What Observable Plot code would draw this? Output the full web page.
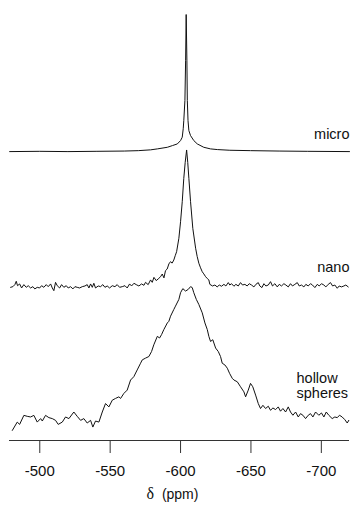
<!DOCTYPE html>
<html>
<head>
<meta charset="utf-8">
<script src="https://cdn.jsdelivr.net/npm/d3@7"></script>
<script src="https://cdn.jsdelivr.net/npm/@observablehq/plot@0.6"></script>
<style>
  html, body { margin: 0; padding: 0; background: #fff; }
  #chart { width: 351px; height: 507px; }
</style>
</head>
<body>
<div id="chart"></div>
<script>
// ---- data: [chemical shift (ppm), intensity (a.u., peak ~100)] ----
const microTrace = [[-478.6,0],[-500,0.2],[-520,0],[-540,0.2],[-560,0.4],[-570,0.7],[-578.7,1.3],[-583.5,2.0],[-590.6,3.2],[-594.3,4.5],[-597.7,5.7],[-600,8.2],[-601.2,10.7],[-601.9,17],[-602.3,23],[-603.1,38],[-603.6,68],[-604,102],[-604.5,68],[-604.8,38],[-605.3,23],[-605.9,15.6],[-607.1,11.9],[-609.4,8.2],[-611.9,5.7],[-616.5,3.2],[-621.3,2.0],[-626.1,1.5],[-635,1.0],[-649.7,0.7],[-670,0.4],[-690,0.2],[-720,0]];

const nanoTrace = [[-479.3,-1.0],[-480.9,-0.5],[-482.3,1.0],[-483.3,3.5],[-484.2,0.2],[-485.7,1.5],[-487.1,-1.5],[-488.7,1.0],[-490.4,-1.0],[-491.8,0.2],[-493.5,-1.5],[-495.1,-0.5],[-496.5,-2.2],[-498.2,-1.0],[-499.9,-1.5],[-501.3,0.2],[-502.9,-1.0],[-504.6,1.0],[-506.0,-0.5],[-507.7,1.5],[-508.9,-1.5],[-510.0,-3.5],[-511.2,2.7],[-512.4,0.2],[-514.1,-1.5],[-515.5,1.0],[-517.1,-1.0],[-518.8,0.2],[-520.2,-1.5],[-521.9,-0.5],[-523.5,-2.2],[-525.0,-0.5],[-526.6,-1.0],[-528.3,-1.5],[-530.2,-0.5],[-532.1,0],[-533.7,1.0],[-534.9,-1.5],[-536.1,1.5],[-537.3,-1.0],[-538.4,2.0],[-539.6,-1.5],[-541.5,0],[-543.2,-0.5],[-544.8,1.0],[-546.3,-1.0],[-547.9,0],[-549.6,-1.5],[-551.5,0.2],[-553.4,-0.5],[-555.0,1.0],[-556.7,-1.0],[-558.6,-0.5],[-560.5,0.2],[-562.1,-1.5],[-563.8,1.5],[-565.2,0],[-566.9,2.0],[-568.5,1.0],[-570.4,0],[-572.3,1.5],[-574.0,0.5],[-575.1,2.7],[-577.0,1.0],[-578.7,4.5],[-579.9,2.7],[-581.1,6.4],[-582.7,4.0],[-584.1,5.2],[-585.8,6.9],[-587.0,8.9],[-588.2,6.0],[-589.3,11.4],[-590.5,12.6],[-591.7,16.4],[-592.9,18.1],[-594.0,17.0],[-595.2,19.3],[-596.2,22.5],[-597.2,25.5],[-598.8,35.5],[-600.0,47.8],[-601.2,62.7],[-602.3,80.1],[-603.3,92],[-604.3,101.2],[-605.1,92],[-605.9,80.1],[-607.1,62.7],[-608.7,42.9],[-610.7,28.1],[-611.8,22],[-613.0,16.9],[-614.2,13.5],[-615.4,10.6],[-616.5,9.0],[-617.8,6.9],[-619.0,5.5],[-620.1,4.5],[-620.8,1.2],[-622.7,0],[-624.4,0.7],[-626.0,-0.7],[-627.5,0.7],[-629.1,-0.2],[-630.8,1.2],[-632.2,0],[-633.9,2.5],[-635.0,0.7],[-636.2,1.7],[-637.9,-0.2],[-639.3,1.2],[-641.0,0],[-642.6,2.5],[-644.0,0.7],[-645.7,1.2],[-647.3,0],[-648.8,1.7],[-650.4,0.7],[-652.1,-0.7],[-653.5,1.2],[-655.2,2.5],[-656.3,0],[-657.8,-1.2],[-659.2,1.7],[-660.6,0],[-662.3,0.7],[-663.9,3.2],[-665.3,0],[-667.0,1.7],[-668.7,-0.7],[-670.1,1.2],[-671.7,0],[-673.4,1.7],[-674.8,0.7],[-676.5,-0.7],[-678.1,1.7],[-679.5,0],[-681.2,1.2],[-682.9,2.5],[-684.3,0],[-685.9,0.7],[-687.6,-0.7],[-689.0,1.2],[-690.7,0],[-692.3,1.7],[-693.7,0.7],[-695.4,-1.2],[-697.1,1.2],[-698.5,0],[-700.1,1.7],[-701.8,0.7],[-703.2,-0.7],[-704.9,1.2],[-706.5,2.5],[-708.0,0],[-709.6,0.7],[-711.3,-1.7],[-712.7,0],[-714.3,-0.7],[-716.0,0],[-717.4,0.7],[-719.1,-0.7]];

const hollowTrace = [[-480.5,-7.5],[-484.0,-1.3],[-485.7,-3.0],[-488.7,3.7],[-491.1,3.0],[-493.5,2.5],[-495.8,3.7],[-498.2,-1.3],[-500.6,1.3],[-501.8,-0.5],[-504.1,3.7],[-506.5,2.0],[-508.9,1.3],[-511.2,0],[-513.1,-3.0],[-516.0,-1.3],[-518.3,2.5],[-520.7,1.3],[-524.2,6.2],[-526.6,3.0],[-529.0,0],[-531.3,1.3],[-533.7,-2.0],[-536.1,0],[-537.7,-5.0],[-539.6,-0.5],[-542.0,-1.3],[-544.4,6.2],[-546.7,12.5],[-549.1,10.0],[-551.5,15.0],[-553.8,16.3],[-556.2,17.5],[-557.4,16.3],[-559.7,20.0],[-562.1,22.5],[-564.5,30.0],[-566.8,32.5],[-569.2,37.5],[-571.6,42.5],[-572.8,45.0],[-575.1,46.3],[-577.5,47.5],[-579.4,51.2],[-581.0,56.2],[-583.5,62.5],[-585.1,61.3],[-586.5,63.8],[-588.1,67.5],[-590.6,72.5],[-591.7,73.7],[-592.9,77.5],[-595.2,82.5],[-596.4,85],[-598.8,90],[-600.0,95],[-601.6,98],[-603.6,96.2],[-605.5,97.5],[-607.1,99.5],[-608.3,98.8],[-609.4,95],[-611.2,90],[-613.0,86.2],[-615.4,80],[-617.3,72.5],[-619.0,67.5],[-620.1,62.5],[-621.3,58.7],[-622.9,60],[-624.9,53.8],[-626.8,51.2],[-628.4,47.5],[-629.6,42.5],[-631.5,41.2],[-633.2,38.8],[-634.8,35],[-636.7,31.3],[-637.9,30],[-640.3,28.7],[-642.6,25],[-645.0,21.2],[-646.2,17.5],[-648.1,22.5],[-649.7,27.5],[-651.3,25],[-653.3,18.8],[-655.2,12.5],[-656.8,8.8],[-658.5,11.2],[-660.4,8.8],[-662.3,10.5],[-663.9,7.5],[-665.6,9.2],[-667.5,8.0],[-669.4,10],[-671.0,6.8],[-672.7,8.8],[-674.6,6.2],[-676.5,10],[-678.1,6.2],[-679.8,3.8],[-681.7,6.2],[-683.6,2.5],[-685.2,5.0],[-686.9,3.8],[-688.8,1.3],[-690.7,3.8],[-692.3,5.0],[-694.0,2.5],[-695.9,6.2],[-698.2,3.8],[-700.1,5.5],[-701.8,2.5],[-703.5,6.2],[-705.3,3.8],[-707.7,1.3],[-709.6,2.5],[-711.3,2.0],[-712.9,3.8],[-714.8,2.5],[-716.7,0.5],[-718.4,-2.0],[-719.5,0]];

const traceNames = ["micro", "nano", "hollow spheres"];
const traceLabels = ["micro", "nano", "hollow\nspheres"];
const stackOffsets = [200, 100, 0];      // vertical stacking of the spectra (a.u.)
const labelLift = [13, 14, 26];          // label height above each baseline (a.u.)
const xTicks = [-500, -550, -600, -650, -700];
const xDomain = [-478.5, -720];
const yDomain = [-15, 305];
const axisLabel = "δ  (ppm)";

// ---- build table ----
const traces = [microTrace, nanoTrace, hollowTrace];
const rows = traces.flatMap((t, i) =>
  t.map(([ppm, v]) => ({trace: traceNames[i], ppm, y: v + stackOffsets[i]})));
const labels = traceLabels.map((name, i) => ({name, y: stackOffsets[i] + labelLift[i]}));
const singleLabels = labels.filter(d => !d.name.includes("\n"));
const multiLabels = labels.filter(d => d.name.includes("\n"));

const font = "'Liberation Sans', Arial, Helvetica, sans-serif";

const chart = Plot.plot({
  width: 351,
  height: 507,
  marginLeft: 9,
  marginRight: 2,
  marginTop: 10,
  marginBottom: 67,
  style: {fontFamily: font, fontSize: "15px", color: "#111", background: "#fff"},
  x: {domain: xDomain},
  y: {domain: yDomain, axis: null},
  marks: [
    Plot.ruleY([yDomain[0]], {stroke: "#333", strokeWidth: 1}),
    Plot.axisX({
      ticks: xTicks,
      tickFormat: d => String(d),
      tickSize: 13,
      tickPadding: 12,
      fontSize: 15,
      stroke: "#333",
      label: null
    }),
    Plot.line(rows, {x: "ppm", y: "y", z: "trace", stroke: "#111", strokeWidth: 1}),
    Plot.text(singleLabels, {y: "y", text: "name", frameAnchor: "right", textAnchor: "end", lineAnchor: "middle", fontSize: 14.5, fill: "#111"}),
    Plot.text(multiLabels, {y: "y", text: "name", frameAnchor: "right", textAnchor: "start", dx: -53, lineAnchor: "middle", lineHeight: 1.1, fontSize: 14.5, fill: "#111"}),
    Plot.text([axisLabel], {text: d => d, frameAnchor: "bottom", dy: 54, dx: -7, lineAnchor: "middle", fontSize: 14, fill: "#111"})
  ]
});

document.getElementById("chart").appendChild(chart);

// render the delta in a serif face, as in the original figure
d3.select(chart).selectAll("text")
  .filter(function() { return this.textContent === axisLabel; })
  .each(function() {
    const t = d3.select(this);
    t.text(null);
    t.append("tspan").attr("font-family", "'Liberation Serif', 'DejaVu Serif', serif").attr("font-size", 16).text("δ");
    t.append("tspan").text("\u00a0\u00a0(ppm)");
  });
</script>
</body>
</html>
